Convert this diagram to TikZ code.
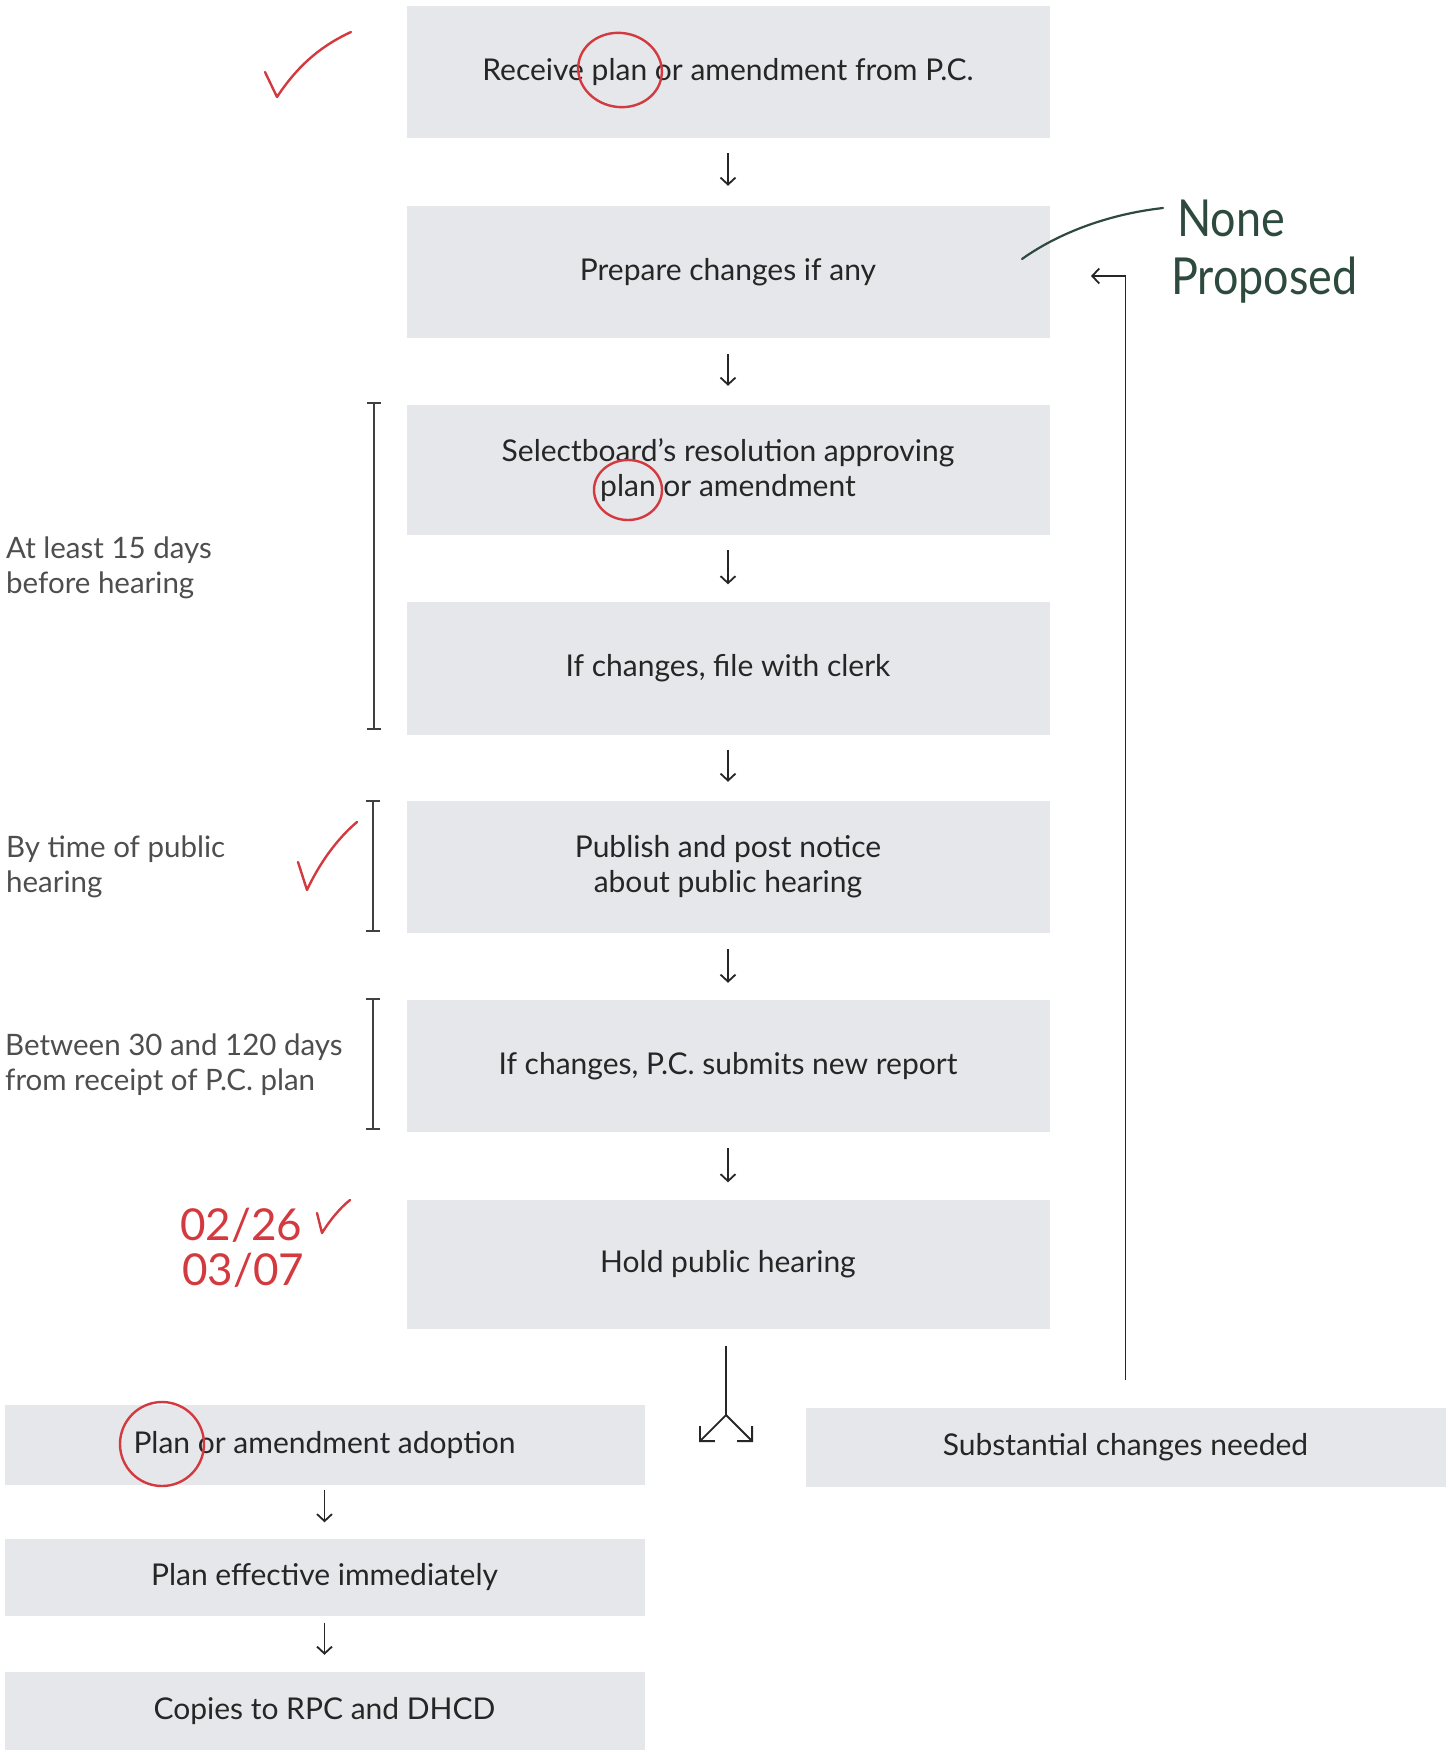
\documentclass[tikz,border=0pt]{standalone}
\usepackage{fontspec}
\setmainfont{Lato}
\newfontfamily\hand[FakeStretch=0.88]{Lato}
\usetikzlibrary{arrows.meta}
\definecolor{boxgray}{HTML}{E6E7EA}
\definecolor{txt}{HTML}{262626}
\definecolor{lbl}{HTML}{4E4E4E}
\definecolor{penred}{HTML}{D33A40}
\definecolor{pengreen}{HTML}{2E4A3E}
\begin{document}
\begin{tikzpicture}[x=1pt,y=-1pt,
  box/.style={fill=boxgray, inner sep=0pt, align=center, text=txt,
    font=\fontsize{30}{35}\selectfont},
  mainbox/.style={box, minimum width=643pt, minimum height=132pt},
  sidebox/.style={box, minimum width=640pt, minimum height=79pt},
  arr/.style={draw=black!85, line width=1.8pt,
    -{Straight Barb[length=7pt,width=15pt,line width=1.8pt]}},
  splitarr/.style={draw=black!85, line width=1.8pt,
    -{Straight Barb[length=10.6pt,width=21.2pt,line width=1.8pt]}},
  brk/.style={draw=black!75, line width=1.6pt,
    {Bar[width=14pt,line width=1.6pt]}-{Bar[width=14pt,line width=1.6pt]}},
  lbltext/.style={anchor=west, align=left, text=lbl, inner sep=0pt,
    font=\fontsize{29.5}{35}\selectfont},
  redpen/.style={draw=penred, line width=2.4pt, line cap=round, line join=round},
  redtext/.style={text=penred, inner sep=0pt, anchor=base west,
    font=\fontsize{44}{44}\selectfont},
  greentext/.style={text=pengreen, inner sep=0pt, anchor=base west,
    font=\hand\fontsize{51}{51}\selectfont}
]
\useasboundingbox (0,0) rectangle (1453,1753);

% main column
\node[mainbox] (b1) at (728,72) {Receive plan or amendment from P.C.};
\node[mainbox] (b2) at (728,272) {Prepare changes if any};
\node[mainbox, minimum height=130pt] (b3) at (728,470) {Selectboard’s resolution approving\\plan or amendment};
\node[mainbox, minimum height=133pt] (b4) at (728,668) {If changes, file with clerk};
\node[mainbox] (b5) at (728,867) {Publish and post notice\\about public hearing};
\node[mainbox] (b6) at (728,1066) {If changes, P.C. submits new report};
\node[mainbox, minimum height=129pt] (b7) at (728,1264) {Hold public hearing};

% bottom boxes
\node[sidebox, minimum height=80pt] (b8) at (324.5,1445) {Plan or amendment adoption};
\node[sidebox] (b9) at (1125.5,1447) {Substantial changes needed};
\node[sidebox, minimum height=77pt] (b10) at (324.5,1577) {Plan effective immediately};
\node[sidebox, minimum height=78pt] (b11) at (324.5,1711) {Copies to RPC and DHCD};

% arrows main column
\draw[arr, shorten <=15pt, shorten >=20pt] (b1) -- (b2);
\draw[arr, shorten <=16pt, shorten >=19pt] (b2) -- (b3);
\draw[arr, shorten <=15pt, shorten >=17pt] (b3) -- (b4);
\draw[arr, shorten <=15pt, shorten >=19pt] (b4) -- (b5);
\draw[arr, shorten <=16pt, shorten >=17pt] (b5) -- (b6);
\draw[arr, shorten <=16pt, shorten >=17pt] (b6) -- (b7);

% split arrow
\coordinate (sp) at (726,1415);
\coordinate (spl) at (699,1442);
\coordinate (spr) at (753,1442);
\draw[draw=black!85, line width=1.8pt, shorten <=17pt] (b7.south -| sp) -- (sp);
\draw[splitarr] (sp) -- (spl);
\draw[splitarr] (sp) -- (spr);

% left column arrows
\draw[arr, shorten <=5pt, shorten >=16pt] (b8) -- (b10);
\draw[arr, shorten <=7pt, shorten >=17pt] (b10) -- (b11);

% loop back
\coordinate (loopend) at (1091,276);
\draw[arr, shorten <=27pt] (b9.north) |- (loopend);

% brackets
\draw[brk] (374,402) -- (374,730);
\draw[brk] (373,800) -- (373,932);
\draw[brk] (373,998) -- (373,1130);

% left labels
\node[lbltext] (l1) at (6,568) {At least 15 days\\before hearing};
\node[lbltext] (l2) at (6,867) {By time of public\\hearing};
\node[lbltext] (l3) at (5,1065) {Between 30 and 120 days\\from receipt of P.C. plan};

% handwritten red marks
\draw[redpen] (265,72) -- (277,97) .. controls (300,62) and (325,44) .. (351,32);
\draw[redpen] (298,862) -- (307,890) .. controls (320,862) and (338,838) .. (357,822);
\draw[redpen] (317,1213) -- (322,1233) .. controls (330,1220) and (340,1208) .. (350,1200);
\draw[redpen, rotate around={-10:(620,70)}] (620,70) ellipse [x radius=42pt, y radius=37pt];
\draw[redpen] (628,490) ellipse [x radius=34pt, y radius=30pt];
\draw[redpen] (162,1444) ellipse [x radius=42pt, y radius=42pt];
\node[redtext] (d1) at (180,1240) {02/26};
\node[redtext] (d2) at (182,1285) {03/07};

% handwritten green note
\draw[draw=pengreen, line width=2.2pt, line cap=round]
  (1022,259) .. controls (1060,232) and (1110,214) .. (1163,208);
\node[greentext] (n1) at (1177,236) {None};
\node[greentext] (n2) at (1171,294) {Proposed};
\end{tikzpicture}
\end{document}
